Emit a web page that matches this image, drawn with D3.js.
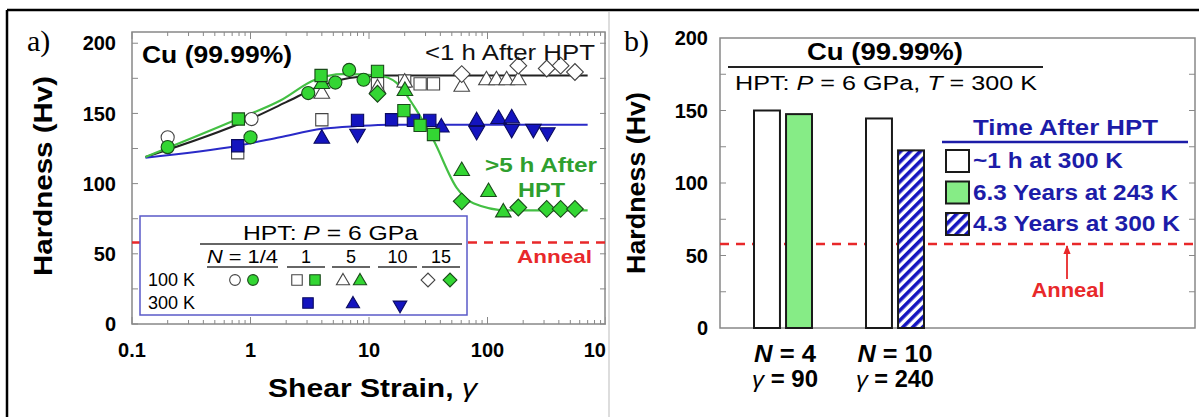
<!DOCTYPE html>
<html><head><meta charset="utf-8">
<script src="https://cdn.jsdelivr.net/npm/d3@7"></script>
<style>body{margin:0;background:#fff} svg{display:block} text{font-family:"Liberation Sans",Arial,sans-serif}</style>
</head><body><svg id="c" width="1199" height="417"></svg>
<script>
// ---------------- data ----------------
const strainTicks = [0.1, 1, 10, 100, 1000];
const strainTickLabels = ["0.1", "1", "10", "100", "1000"];
const hvTicks = [0, 50, 100, 150, 200];
const annealHv = 58;

// panel a) : [shear strain, Hv]
const open1_4  = [[0.2,133],[1.02,146]];
const green1_4 = [[0.2,126],[1.0,133],[3.07,164.5],[5.2,172],[6.8,181],[9,174]];
const open1    = [[0.78,122],[4.0,145.5],[11.8,171],[20,173],[27,171],[35,171]];
const green1   = [[0.79,146],[3.94,177],[11.8,180],[19.7,152],[27,141.5],[35,135]];
const blue1    = [[0.78,127],[8,145],[15.5,145.5],[23.7,145],[32.6,145]];
const open5    = [[4,164],[11.8,168],[20,172],[60.6,169],[98,173.6],[119,173.6],[145,173.6],[182,173.6]];
const green5   = [[4,171],[20.1,166],[60.6,109],[102,94],[136,79.5]];
const blue5    = [[4,132],[40.8,140],[81,144.5],[124,146],[160,146.5]];
const blue10   = [[8,135.5],[81,137.5],[160,139],[244,139],[320,136.6]];
const open15   = [[60.6,178],[182,184],[316,182],[414,184],[547,179.5]];
const green15  = [[11.8,164],[60.6,87.4],[182,83],[316,82],[414,82],[547,82]];

const fitBlack = [[0.13,119],[1,146],[2,158],[4,170],[8,176],[15,177],[700,177]];
const fitGreen = [[0.13,119],[0.78,146],[1.77,159],[3.5,174],[6,178],[12,177],[17,172],[24,155],[35,131],[55,97],[76,86],[145,81],[700,81]];
const fitBlue  = [[0.13,118.5],[0.78,127],[1.77,133],[4,139],[8,141],[15,142],[700,142]];

// panel b)
const barGroups = ["4", "10"];
const barGamma = ["90", "240"];
const hvOneHour = [150, 144.5];
const hvLongTime = [147.5, 122.5];
const longTimeKeys = ["6.3 Years at 243 K", "4.3 Years at 300 K"];
const legendKeys = ["~1 h at 300 K", "6.3 Years at 243 K", "4.3 Years at 300 K"];

// ---------------- drawing ----------------
const svg = d3.select("#c");
const GREEN = "#33d633", BLUE = "#1414bf", DARK = "#1a1a1a", RED = "#e8282a", NAVY = "#1c1ca8";

const defs = svg.append("defs");
const pat = defs.append("pattern").attr("id","hatch").attr("patternUnits","userSpaceOnUse")
  .attr("width",7).attr("height",7).attr("patternTransform","rotate(45)");
pat.append("rect").attr("width",7).attr("height",7).attr("fill","#fff");
pat.append("rect").attr("width",3.6).attr("height",7).attr("fill",BLUE);
defs.append("clipPath").attr("id","clipA").append("rect").attr("x",0).attr("y",0).attr("width",606).attr("height",417);
defs.append("marker").attr("id","arr").attr("viewBox","0 0 10 10").attr("refX",9).attr("refY",5)
  .attr("markerWidth",5).attr("markerHeight",5).attr("orient","auto")
  .append("path").attr("d","M0,1L10,5L0,9Z").attr("fill",RED);

// outer frame
svg.append("line").attr("x1",7).attr("x2",1199).attr("y1",10).attr("y2",10).attr("stroke","#000").attr("stroke-width",2.5);
svg.append("line").attr("x1",7).attr("x2",7).attr("y1",10).attr("y2",417).attr("stroke","#000").attr("stroke-width",2.5);
svg.append("line").attr("x1",609).attr("x2",609).attr("y1",11).attr("y2",417).attr("stroke","#bbb").attr("stroke-width",1);

svg.append("text").attr("x",27).attr("y",51).style("font-family","'Liberation Serif',serif").attr("font-size",30).text("a)");
svg.append("text").attr("x",624).attr("y",51).style("font-family","'Liberation Serif',serif").attr("font-size",30).text("b)");

// ======= panel a =======
const A = svg.append("g").attr("clip-path","url(#clipA)");
const x = d3.scaleLog().domain([0.1,1000]).range([132,606]);
const y = d3.scaleLinear().domain([0,208]).range([324,32]);

// ticks
const minorX = [];
for (let d=0.1; d<1000; d*=10) for (let k=2;k<=9;k++) minorX.push(d*k);
const tickG = A.append("g").attr("stroke","#888").attr("stroke-width",1);
minorX.forEach(v=>{
  tickG.append("line").attr("x1",x(v)).attr("x2",x(v)).attr("y1",324).attr("y2",320);
  tickG.append("line").attr("x1",x(v)).attr("x2",x(v)).attr("y1",32).attr("y2",36);
});
strainTicks.forEach(v=>{
  tickG.append("line").attr("x1",x(v)).attr("x2",x(v)).attr("y1",324).attr("y2",317);
  tickG.append("line").attr("x1",x(v)).attr("x2",x(v)).attr("y1",32).attr("y2",39);
});
d3.range(0,208,25).forEach(v=>{
  tickG.append("line").attr("x1",132).attr("x2",138).attr("y1",y(v)).attr("y2",y(v));
  tickG.append("line").attr("x1",606).attr("x2",600).attr("y1",y(v)).attr("y2",y(v));
});
A.append("rect").attr("x",132).attr("y",32).attr("width",473).attr("height",292)
  .attr("fill","none").attr("stroke","#888").attr("stroke-width",1.5);

// tick labels
A.selectAll(".xl").data(strainTicks).enter().append("text")
  .attr("x",d=>x(d)).attr("y",357).attr("text-anchor","middle").attr("font-size",20).attr("font-weight","bold")
  .text((d,i)=>strainTickLabels[i]);
A.selectAll(".yl").data(hvTicks).enter().append("text")
  .attr("x",116).attr("y",d=>y(d)).attr("dy","0.36em").attr("text-anchor","end").attr("font-size",20).attr("font-weight","bold")
  .text(d=>d);
A.append("text").attr("transform","translate(52,176) rotate(-90)").attr("text-anchor","middle")
  .attr("font-size",26).attr("font-weight","bold").attr("textLength",200).attr("lengthAdjust","spacingAndGlyphs").text("Hardness (Hv)");
const xl = A.append("text").attr("x",268).attr("y",397).attr("font-size",25).attr("font-weight","bold")
  .attr("textLength",209).attr("lengthAdjust","spacingAndGlyphs");
xl.append("tspan").text("Shear Strain, ");
xl.append("tspan").attr("font-style","italic").attr("font-weight","normal").text("γ");

// anneal line
A.append("line").attr("x1",132).attr("x2",606).attr("y1",y(annealHv)).attr("y2",y(annealHv))
  .attr("stroke",RED).attr("stroke-width",2.5).attr("stroke-dasharray","9,7");

// fits
const line = d3.line().x(d=>x(d[0])).y(d=>y(d[1])).curve(d3.curveMonotoneX);
A.append("path").attr("d",line(fitBlack)).attr("fill","none").attr("stroke","#222").attr("stroke-width",2);
A.append("path").attr("d",line(fitBlue)).attr("fill","none").attr("stroke","#2a2ac8").attr("stroke-width",2);
A.append("path").attr("d",line(fitGreen)).attr("fill","none").attr("stroke","#44c044").attr("stroke-width",2.2);

// markers
const shapes = {
  circle:  {t:d3.symbolCircle, r:0},
  square:  {t:d3.symbolSquare, r:0},
  tri:     {t:d3.symbolTriangle, r:0},
  down:    {t:d3.symbolTriangle, r:180},
  diamond: {t:d3.symbolSquare, r:45}
};
const sizeMain = {circle:135, square:150, tri:105, down:105, diamond:140};
const sizeLeg  = {circle:90, square:110, tri:75, down:80, diamond:95};
function drawPts(data, shape, fill, stroke){
  A.selectAll(null).data(data).enter().append("path")
    .attr("d", d3.symbol().type(shapes[shape].t).size(sizeMain[shape]))
    .attr("transform", d=>`translate(${x(d[0])},${y(d[1])}) rotate(${shapes[shape].r})`)
    .attr("fill", fill).attr("stroke", stroke).attr("stroke-width",1.1);
}
drawPts(open1_4,"circle","#fff","#444");
drawPts(open1,"square","#fff","#444");
drawPts(open5,"tri","#fff","#444");
drawPts(open15,"diamond","#fff","#444");
drawPts(blue1,"square",BLUE,"#0a0a60");
drawPts(blue5,"tri",BLUE,"#0a0a60");
drawPts(blue10,"down",BLUE,"#0a0a60");
drawPts(green1_4,"circle",GREEN,"#1a4a1a");
drawPts(green5,"tri",GREEN,"#1a4a1a");
drawPts(green15,"diamond",GREEN,"#1a4a1a");
drawPts(green1,"square",GREEN,"#1a4a1a");

// texts in plot
A.append("text").attr("x",142).attr("y",63).attr("font-size",23).attr("font-weight","bold")
  .attr("textLength",150).attr("lengthAdjust","spacingAndGlyphs").text("Cu (99.99%)");
A.append("text").attr("x",425).attr("y",60).attr("font-size",22).attr("fill","#111")
  .attr("textLength",170).attr("lengthAdjust","spacingAndGlyphs").text("<1 h After HPT");
A.append("text").attr("x",485).attr("y",172).attr("font-size",21).attr("font-weight","bold").attr("fill","#2f9f2f")
  .attr("textLength",112).attr("lengthAdjust","spacingAndGlyphs").text(">5 h After");
A.append("text").attr("x",518).attr("y",197).attr("font-size",21).attr("font-weight","bold").attr("fill","#2f9f2f")
  .attr("textLength",47).attr("lengthAdjust","spacingAndGlyphs").text("HPT");
A.append("text").attr("x",517).attr("y",263).attr("font-size",19).attr("font-weight","bold").attr("fill",RED)
  .attr("textLength",75).attr("lengthAdjust","spacingAndGlyphs").text("Anneal");

// legend box
const L = A.append("g");
L.append("rect").attr("x",140).attr("y",216).attr("width",327).attr("height",99)
  .attr("fill","#fff").attr("stroke","#5a5ac8").attr("stroke-width",1.5);
const lt = L.append("text").attr("x",243).attr("y",240).attr("font-size",21)
  .attr("textLength",175).attr("lengthAdjust","spacingAndGlyphs");
lt.append("tspan").text("HPT: ");
lt.append("tspan").attr("font-style","italic").text("P");
lt.append("tspan").text(" = 6 GPa");
L.append("line").attr("x1",200).attr("x2",462).attr("y1",244).attr("y2",244).attr("stroke","#333").attr("stroke-width",1.5);
const cols = [
  {lab:"N = 1/4", x1:207, x2:278},
  {lab:"1", x1:287, x2:325},
  {lab:"5", x1:332, x2:370},
  {lab:"10", x1:378, x2:417},
  {lab:"15", x1:422, x2:460}
];
cols.forEach((c,i)=>{
  if(i===0){
    const t = L.append("text").attr("x",c.x1).attr("y",263).attr("font-size",18)
      .attr("textLength",71).attr("lengthAdjust","spacingAndGlyphs");
    t.append("tspan").attr("font-style","italic").text("N");
    t.append("tspan").text(" = 1/4");
  } else {
    L.append("text").attr("x",(c.x1+c.x2)/2).attr("y",263).attr("text-anchor","middle").attr("font-size",18).text(c.lab);
  }
  L.append("line").attr("x1",c.x1).attr("x2",c.x2).attr("y1",267).attr("y2",267).attr("stroke","#333").attr("stroke-width",1.5);
});
L.append("text").attr("x",148).attr("y",286).attr("font-size",18).text("100 K");
L.append("text").attr("x",148).attr("y",309).attr("font-size",18).text("300 K");
const legMarks = [
  ["circle",235,280,"#fff","#444"],["circle",253,280,GREEN,"#1a4a1a"],
  ["square",297,280,"#fff","#444"],["square",315,280,GREEN,"#1a4a1a"],
  ["tri",343,281,"#fff","#444"],["tri",360,281,GREEN,"#1a4a1a"],
  ["diamond",428,280,"#fff","#444"],["diamond",450,280,GREEN,"#1a4a1a"],
  ["square",308,303,BLUE,"#0a0a60"],["tri",353,304,BLUE,"#0a0a60"],["down",400,305,BLUE,"#0a0a60"]
];
legMarks.forEach(m=>{
  L.append("path").attr("d",d3.symbol().type(shapes[m[0]].t).size(sizeLeg[m[0]]))
   .attr("transform",`translate(${m[1]},${m[2]}) rotate(${shapes[m[0]].r})`)
   .attr("fill",m[3]).attr("stroke",m[4]).attr("stroke-width",1.1);
});

// ======= panel b =======
const B = svg.append("g");
const yb = d3.scaleLinear().domain([0,200]).range([328,38]);
const x0 = d3.scaleBand().domain(barGroups).range([727,951]);
const x1 = d3.scaleBand().domain(["short","long"]).range([27,85]).paddingInner(0.19);

const tb = B.append("g").attr("stroke","#888").attr("stroke-width",1);
d3.range(25,200,25).forEach(v=>{
  tb.append("line").attr("x1",720).attr("x2",726).attr("y1",yb(v)).attr("y2",yb(v));
  tb.append("line").attr("x1",1195).attr("x2",1189).attr("y1",yb(v)).attr("y2",yb(v));
});
B.append("rect").attr("x",720).attr("y",38).attr("width",475).attr("height",290)
  .attr("fill","none").attr("stroke","#888").attr("stroke-width",1.5);
B.selectAll(".ybl").data(hvTicks).enter().append("text")
  .attr("x",708).attr("y",d=>yb(d)).attr("dy","0.36em").attr("text-anchor","end").attr("font-size",20).attr("font-weight","bold")
  .text(d=>d);
B.append("text").attr("transform","translate(645,183) rotate(-90)").attr("text-anchor","middle")
  .attr("font-size",26).attr("font-weight","bold").attr("textLength",182).attr("lengthAdjust","spacingAndGlyphs").text("Hardness (Hv)");

// anneal line
B.append("line").attr("x1",720).attr("x2",1195).attr("y1",yb(annealHv)).attr("y2",yb(annealHv))
  .attr("stroke",RED).attr("stroke-width",2.5).attr("stroke-dasharray","9,7");

// bars
const barData = [];
barGroups.forEach((g,i)=>{
  barData.push({g, k:"short", v:hvOneHour[i], fill:"#fff"});
  barData.push({g, k:"long", v:hvLongTime[i], fill: longTimeKeys[i]===legendKeys[1] ? "#86ec86" : "url(#hatch)"});
});
B.selectAll(".bar").data(barData).enter().append("rect")
  .attr("x",d=>x0(d.g)+x1(d.k)).attr("width",x1.bandwidth())
  .attr("y",d=>yb(d.v)).attr("height",d=>yb(0)-yb(d.v))
  .attr("fill",d=>d.fill).attr("stroke","#1a1a1a").attr("stroke-width",2);

// category labels
barGroups.forEach((g,i)=>{
  const cx = x0(g)+x0.bandwidth()/2 + (i===0?2:0);
  const t1 = B.append("text").attr("x",cx).attr("y",362).attr("text-anchor","middle").attr("font-size",23).attr("font-weight","bold")
    .attr("textLength", i===0?62:75).attr("lengthAdjust","spacingAndGlyphs");
  t1.append("tspan").attr("font-style","italic").text("N");
  t1.append("tspan").text(" = " + g);
  const t2 = B.append("text").attr("x",cx).attr("y",387).attr("text-anchor","middle").attr("font-size",23).attr("font-weight","bold")
    .attr("textLength", i===0?66:78).attr("lengthAdjust","spacingAndGlyphs");
  t2.append("tspan").attr("font-style","italic").attr("font-weight","normal").text("γ");
  t2.append("tspan").text(" = " + barGamma[i]);
});

// headings
B.append("text").attr("x",885).attr("y",60).attr("text-anchor","middle").attr("font-size",23).attr("font-weight","bold")
  .attr("textLength",156).attr("lengthAdjust","spacingAndGlyphs").text("Cu (99.99%)");
B.append("line").attr("x1",728).attr("x2",1043).attr("y1",67).attr("y2",67).attr("stroke","#222").attr("stroke-width",2);
const sub = B.append("text").attr("x",735).attr("y",90).attr("font-size",21)
  .attr("textLength",302).attr("lengthAdjust","spacingAndGlyphs");
sub.append("tspan").text("HPT: ");
sub.append("tspan").attr("font-style","italic").text("P");
sub.append("tspan").text(" = 6 GPa, ");
sub.append("tspan").attr("font-style","italic").text("T");
sub.append("tspan").text(" = 300 K");

// legend
B.append("text").attr("x",973).attr("y",135).attr("font-size",22).attr("font-weight","bold").attr("fill",NAVY)
  .attr("textLength",185).attr("lengthAdjust","spacingAndGlyphs").text("Time After HPT");
B.append("line").attr("x1",942).attr("x2",1188).attr("y1",142).attr("y2",142).attr("stroke",NAVY).attr("stroke-width",2.5);
const legFill = ["#fff","#86ec86","url(#hatch)"];
const legLen = [150, 205, 207];
legendKeys.forEach((k,i)=>{
  const yy = 150 + i*31.5;
  B.append("rect").attr("x",946).attr("y",yy).attr("width",23).attr("height",22)
    .attr("fill",legFill[i]).attr("stroke","#1a1a1a").attr("stroke-width",2);
  B.append("text").attr("x",973).attr("y",yy+18).attr("font-size",22).attr("font-weight","bold").attr("fill",NAVY)
    .attr("textLength",legLen[i]).attr("lengthAdjust","spacingAndGlyphs").text(k);
});

// anneal annotation
B.append("line").attr("x1",1067).attr("x2",1067).attr("y1",279).attr("y2",yb(annealHv)+2)
  .attr("stroke",RED).attr("stroke-width",1.8).attr("marker-end","url(#arr)");
B.append("text").attr("x",1068).attr("y",297).attr("text-anchor","middle").attr("font-size",21).attr("font-weight","bold").attr("fill",RED)
  .attr("textLength",73).attr("lengthAdjust","spacingAndGlyphs").text("Anneal");
</script></body></html>
